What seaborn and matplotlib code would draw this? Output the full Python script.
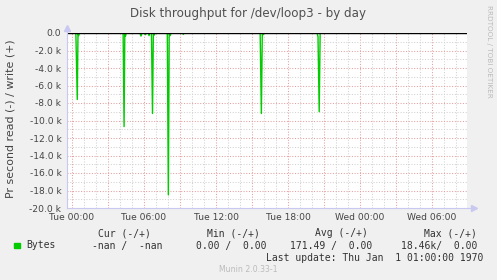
import matplotlib
matplotlib.use("Agg")
import matplotlib.pyplot as plt
import seaborn as sns
import pandas as pd
from matplotlib.ticker import FixedLocator, MultipleLocator

# ---- data (hours relative to Tue 00:00, bytes per second; read is negative) ----
hours = [-0.42, 0.32, 0.44, 0.50, 0.56, 0.62,
         4.26, 4.34, 4.40, 4.46, 4.52,
         5.66, 5.75, 5.84, 6.05, 6.12, 6.20, 6.36, 6.42, 6.48,
         6.62, 6.71, 6.78, 6.84, 6.92,
         7.94, 8.03, 8.10, 8.18, 8.26,
         9.20, 9.28, 9.36,
         15.68, 15.78, 15.86, 15.92, 16.00,
         20.42, 20.50, 20.60, 20.68,
         32.90]
read_bytes = [0, 0, -7600, 0, -300, 0,
              0, -10700, 0, -350, 0,
              0, -350, 0, 0, -200, 0, 0, -300, 0,
              0, -9200, 0, -250, 0,
              0, -18500, 0, -300, 0,
              0, -150, 0,
              0, -9200, 0, -200, 0,
              0, -400, -9000, 0,
              0]

x_tick_hours = [0, 6, 12, 18, 24, 30]
x_tick_labels = ["Tue 00:00", "Tue 06:00", "Tue 12:00", "Tue 18:00", "Wed 00:00", "Wed 06:00"]
y_tick_values = [0, -2000, -4000, -6000, -8000, -10000, -12000, -14000, -16000, -18000, -20000]
y_tick_labels = ["0.0", "-2.0 k", "-4.0 k", "-6.0 k", "-8.0 k", "-10.0 k", "-12.0 k",
                 "-14.0 k", "-16.0 k", "-18.0 k", "-20.0 k"]

title = "Disk throughput for /dev/loop3 - by day"
ylabel = "Pr second read (-) / write (+)"
legend_header = ["Cur (-/+)", "Min (-/+)", "Avg (-/+)", "Max (-/+)"]
legend_values = ["-nan /  -nan", "0.00 /  0.00", "171.49 /  0.00", "18.46k/  0.00"]
legend_name = "Bytes"
last_update = "Last update: Thu Jan  1 01:00:00 1970"
version = "Munin 2.0.33-1"
side_text = "RRDTOOL / TOBI OETIKER"

df = pd.DataFrame({"hours": hours, "bytes": read_bytes})

# ---- figure ----
sns.set_theme(style="white")
plt.rcParams["font.family"] = ["DejaVu Sans"]
W, H = 497, 280
fig = plt.figure(figsize=(W / 100, H / 100), dpi=100, facecolor="#f0f0f0")
L, R, T, B = 67, 467, 33, 208
ax = fig.add_axes([L / W, 1 - B / H, (R - L) / W, (B - T) / H])
ax.set_facecolor("white")

red_grid = "#e4a0a0"
gray_grid = "#d2d2d2"

# grid
x_major = [h for h in range(0, 33, 3)]
ax.xaxis.set_major_locator(FixedLocator(x_major))
ax.xaxis.set_minor_locator(MultipleLocator(1))
ax.yaxis.set_major_locator(FixedLocator(y_tick_values))
ax.yaxis.set_minor_locator(MultipleLocator(1000))
ax.grid(which="minor", color=gray_grid, linestyle=(0, (1, 1.6)), linewidth=0.75)
ax.grid(which="major", color=red_grid, linestyle=(0, (1, 1.6)), linewidth=0.75)
ax.set_axisbelow(True)

sns.lineplot(data=df, x="hours", y="bytes", ax=ax, color="#00cc00", linewidth=1.0,
             legend=False, estimator=None, sort=False, zorder=3)
ax.axhline(0, color="black", linewidth=1.0, zorder=4)

ax.set_xlim((L - 72) / 12, (R - 72) / 12)
ax.set_ylim(-20000, 0)

xlabels = []
for h in x_major:
    xlabels.append(x_tick_labels[x_tick_hours.index(h)] if h in x_tick_hours else "")
ax.set_xticklabels(xlabels)
ax.set_yticklabels(y_tick_labels)
ax.set_xlabel("")
ax.set_ylabel("")
ax.tick_params(axis="both", which="major", labelsize=6.6, color=red_grid,
               labelcolor="#444444", length=2, width=0.7, pad=2, direction="out")
ax.tick_params(axis="both", which="minor", color=gray_grid, length=2, width=0.7, direction="out")
ax.tick_params(axis="x", which="major", pad=1.5)

for s in ["top", "right"]:
    ax.spines[s].set_visible(False)
for s in ["left", "bottom"]:
    ax.spines[s].set_color("#c8c8f0")
    ax.spines[s].set_linewidth(0.8)
    ax.spines[s].set_zorder(5)

# axis arrows
axc = "#c8c8f0"
fig.add_artist(plt.Line2D([R / W, 474 / W], [1 - B / H, 1 - B / H], color=axc, lw=0.8))
fig.add_artist(plt.Line2D([L / W, L / W], [1 - T / H, 1 - 27 / H], color=axc, lw=0.8))
fig.add_artist(plt.Line2D([474 / W], [1 - B / H], marker=">", color=axc, markersize=4, linestyle="none"))
fig.add_artist(plt.Line2D([L / W], [1 - 28 / H], marker="^", color=axc, markersize=4, linestyle="none"))

# texts
fig.text(248 / W, 1 - 13 / H, title, ha="center", va="center", fontsize=8.6, color="#505050")
fig.text(11 / W, 1 - 119 / H, ylabel, ha="center", va="center", rotation=90,
         fontsize=7.9, color="#444444")
fig.text(489 / W, 1 - 5 / H, side_text, ha="center", va="top", rotation=270,
         fontsize=5.2, color="#bbbbbb")

mono = "DejaVu Sans Mono"
hdr_right = [151, 260, 368, 477]
val_right = [162, 267, 372, 477]
for t, xr in zip(legend_header, hdr_right):
    fig.text(xr / W, 1 - 233.5 / H, t, ha="right", va="center", family=mono, fontsize=7, color="#333333")
for t, xr in zip(legend_values, val_right):
    fig.text(xr / W, 1 - 245.5 / H, t, ha="right", va="center", family=mono, fontsize=7, color="#333333")
fig.text(26.5 / W, 1 - 245.5 / H, legend_name, ha="left", va="center", family=mono, fontsize=7, color="#333333")
fig.patches.append(plt.Rectangle((14 / W, 1 - 248 / H), 5.5 / W, 5.5 / H,
                                 transform=fig.transFigure, color="#00cc00"))
fig.text(483.5 / W, 1 - 257.8 / H, last_update, ha="right", va="center", family=mono, fontsize=7, color="#333333")
fig.text(248.5 / W, 1 - 269.3 / H, version, ha="center", va="center", fontsize=5.6, color="#bbbbbb")

fig.savefig("out.png", dpi=100, facecolor=fig.get_facecolor())
